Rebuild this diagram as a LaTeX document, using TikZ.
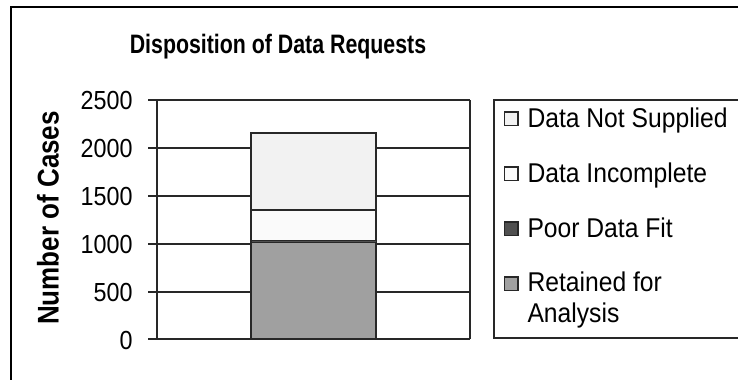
\documentclass[tikz,border=0pt]{standalone}
\usepackage{fontspec}
\setmainfont{Liberation Sans}
\usetikzlibrary{positioning}

\definecolor{notsupplied}{RGB}{242,242,242}
\definecolor{incomplete}{RGB}{250,250,250}
\definecolor{poorfit}{RGB}{80,80,80}
\definecolor{retained}{RGB}{160,160,160}
\definecolor{gridgray}{RGB}{40,40,40}

\tikzset{every picture/.style={line width=0.75pt}}
\tikzset{
  gridline/.style={draw=gridgray, line width=1.4pt},
  ticklabel/.style={anchor=east, inner sep=0.75pt, yscale=1.12, font=\fontsize{17.5}{20}\selectfont},
  legendtext/.style={anchor=base west, inner sep=0.75pt, align=left, yscale=1.1, font=\fontsize{18.5}{20.5}\selectfont},
  legendkey/.style={draw=gridgray, line width=1.1pt, minimum size=10pt, inner sep=0pt, anchor=south west},
  charttitle/.style={anchor=base, inner sep=0.75pt, yscale=1.25, font=\bfseries\fontsize{16}{19}\selectfont},
}

\begin{document}
\begin{tikzpicture}[x=0.75pt,y=0.75pt,yscale=-1,xscale=1]
\useasboundingbox (0,0) rectangle (738,379);
\clip (0,0) rectangle (738,379);

%Shape: Chart frame
\draw  [line width=1.5pt]  (11,7) rectangle (760,400) ;

% Text Node
\node (heading) at (278,53) [charttitle] {Disposition of Data Requests};

% Text Node
\node (ylabel) [rotate=90, yscale=1.15, inner sep=0.75pt, font=\bfseries\fontsize{19.5}{22}\selectfont] at (48,218) {Number of Cases};

%Shape: Bar segments
\draw  [fill=retained, draw=gridgray, line width=1.2pt]  (251,339) rectangle (376,242) ;
\draw  [fill=poorfit, draw=gridgray, line width=0.6pt]  (251,242) rectangle (376,240.5) ;
\draw  [fill=incomplete, draw=gridgray, line width=1.2pt]  (251,240.5) rectangle (376,210) ;
\draw  [fill=notsupplied, draw=gridgray, line width=1.2pt]  (251,210) rectangle (376,133) ;

%Shape: Grid lines and ticks
\draw  [gridline]  (148,100) -- (470,100) ;
\draw  [gridline]  (148,148) -- (251,148) (376,148) -- (470,148) ;
\draw  [gridline]  (148,196) -- (251,196) (376,196) -- (470,196) ;
\draw  [gridline]  (148,244) -- (251,244) (376,244) -- (470,244) ;
\draw  [gridline]  (148,292) -- (251,292) (376,292) -- (470,292) ;
\draw  [gridline]  (148,339) -- (470,339) ;
\draw  [gridline]  (157,100) -- (157,339) ;
\draw  [gridline]  (470,100) -- (470,339) ;

% Text Node
\node (t2500) at (134,100) [ticklabel] {2500};
% Text Node
\node (t2000) at (134,148) [ticklabel] {2000};
% Text Node
\node (t1500) at (134,196) [ticklabel] {1500};
% Text Node
\node (t1000) at (134,244) [ticklabel] {1000};
% Text Node
\node (t500) at (134,292) [ticklabel] {500};
% Text Node
\node (t0) at (134,340) [ticklabel] {0};

%Shape: Legend box
\draw  [gridline]  (494,100) rectangle (760,338) ;

% Legend keys
\node (knotsup) at (504,126) [legendkey, fill=notsupplied] {};
\node (kincomp) at (504,181) [legendkey, fill=incomplete] {};
\node (kpoor) at (504,236) [legendkey, fill=poorfit] {};
\node (kretain) at (504,291) [legendkey, fill=retained] {};

% Text Node
\node (lnotsup) at (526,127) [legendtext] {Data Not Supplied};
% Text Node
\node (lincomp) at (526,182) [legendtext] {Data Incomplete};
% Text Node
\node (lpoor) at (526,237) [legendtext] {Poor Data Fit};
% Text Node
\node (lretain) at (526,322) [legendtext] {Retained for\\Analysis};

\end{tikzpicture}
\end{document}
